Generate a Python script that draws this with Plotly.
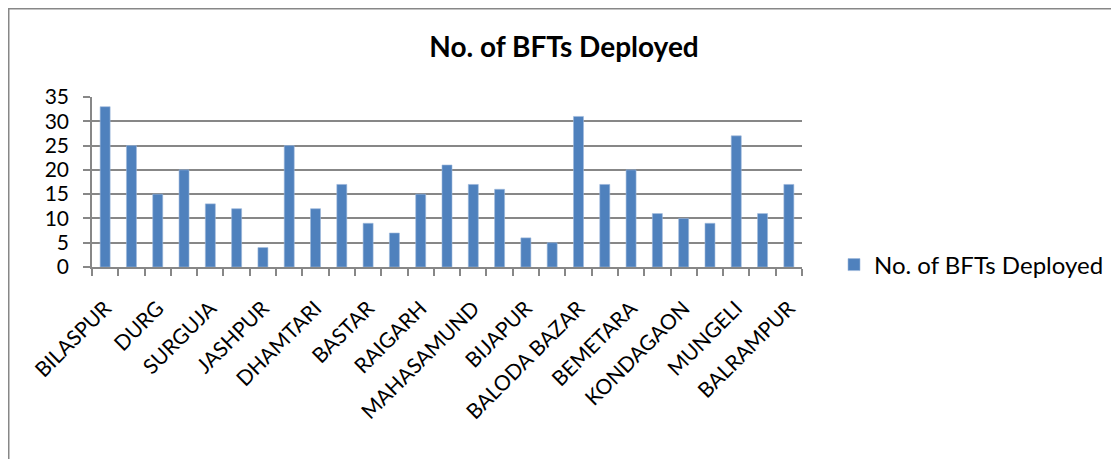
import plotly.graph_objects as go

districts = ["BILASPUR", "RAIPUR", "DURG", "RAJNANDGAON", "SURGUJA", "KORIYA",
             "JASHPUR", "JANJGIR-CHAMPA", "DHAMTARI", "KANKER", "BASTAR", "DANTEWADA",
             "RAIGARH", "KORBA", "MAHASAMUND", "KABIRDHAM", "BIJAPUR", "NARAYANPUR",
             "BALODA BAZAR", "GARIABAND", "BEMETARA", "BALOD", "KONDAGAON", "SUKMA",
             "MUNGELI", "SURAJPUR", "BALRAMPUR"]
bfts_deployed = [33, 25, 15, 20, 13, 12, 4, 25, 12, 17, 9, 7, 15, 21, 17, 16, 6, 5,
                 31, 17, 20, 11, 10, 9, 27, 11, 17]
y_ticks = [0, 5, 10, 15, 20, 25, 30, 35]
series_name = "No. of BFTs Deployed"

tick_text = [d if i % 2 == 0 else "" for i, d in enumerate(districts)]

FONT = "Lato, Open Sans, sans-serif"
GRID = "#878787"
OFF = 8  # page body margin offset

W, H = 1119, 459
L, R, T, B = 92 - OFF, 802 - OFF, 97 - OFF, 267 - OFF  # plot area in figure pixels
PW, PH = R - L, B - T

fig = go.Figure()
fig.add_trace(go.Bar(
    x=districts, y=bfts_deployed, name=series_name,
    marker=dict(color="#4F81BD", line=dict(color="#9DB8DC", width=0.6)),
    showlegend=True,
))

fig.update_layout(
    width=W, height=H,
    margin=dict(l=L, r=W - R, t=T, b=H - B, autoexpand=False),
    paper_bgcolor="white", plot_bgcolor="white",
    bargap=0.62,
    font=dict(family=FONT, color="black"),
    title=dict(text="<b>No. of BFTs Deployed</b>", x=(564 - OFF) / W, xref="container",
               y=1 - (47 - OFF) / H, yref="container", xanchor="center", yanchor="middle",
               font=dict(size=28, family=FONT, color="black")),
    xaxis=dict(type="category", tickmode="array", tickvals=districts, ticktext=tick_text,
               tickangle=-45, tickson="boundaries", ticks="outside", ticklen=7,
               tickcolor=GRID, tickwidth=1.5, showline=True, linecolor=GRID, linewidth=1.5,
               showgrid=False, ticklabelstandoff=19,
               tickfont=dict(size=21, family=FONT, color="black"),
               range=[-0.5, len(districts) - 0.5]),
    yaxis=dict(range=[0, 35], tickmode="array", tickvals=y_ticks, ticks="outside",
               ticklen=7, tickcolor=GRID, tickwidth=1.5, showline=True, linecolor=GRID,
               linewidth=1.5, showgrid=True, gridcolor=GRID, gridwidth=1.5,
               zeroline=False, ticklabelstandoff=10,
               tickfont=dict(size=21, family=FONT, color="black")),
    legend=dict(x=(834 - 92) / PW, y=(267 - 265) / PH, xanchor="left", yanchor="middle",
                font=dict(size=24, family=FONT, color="black"), itemwidth=30,
                bgcolor="rgba(0,0,0,0)"),
    shapes=[dict(type="rect", xref="paper", yref="paper",
                 x0=(0.5 - L) / PW, x1=1.6, y0=-1.5, y1=(B - 0.5) / PH,
                 line=dict(color=GRID, width=2), fillcolor="rgba(0,0,0,0)", layer="below")],
)

fig.write_html("out.html")
